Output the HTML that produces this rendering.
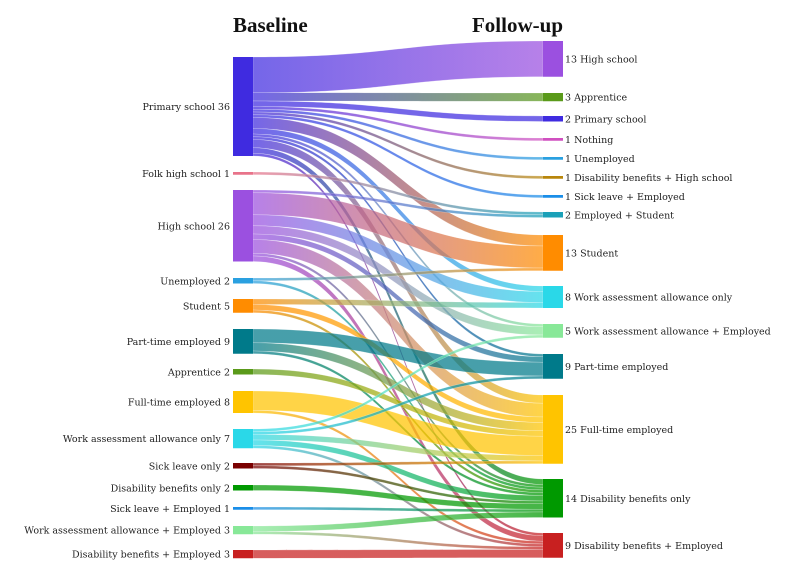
<!DOCTYPE html>
<html><head><meta charset="utf-8">
<style>
html,body{margin:0;padding:0;background:#fff;}
svg{display:block;}
text{font-family:"DejaVu Serif","Liberation Serif",serif;font-size:9.5px;fill:#222;}
.t{font-family:"Liberation Serif",serif;font-size:21px;font-weight:bold;fill:#111;}
</style></head><body>
<svg id="s" width="796" height="575" xmlns="http://www.w3.org/2000/svg">
<defs id="d"></defs>
<g id="links"></g><g id="nodes"></g>
<text class="t" x="233" y="32">Baseline</text>
<text class="t" x="563" y="32" text-anchor="end">Follow-up</text>
</svg>
<script>
var K=2.75,LX=233,RX=543,W=20;
var L=[["Primary school 36",57,36,"#3f2be0"],["Folk high school 1",172,1,"#e8738a"],["High school 26",190,26,"#9b50e0"],["Unemployed 2",278,2,"#2aa0e0"],["Student 5",299,5,"#ff8c00"],["Part-time employed 9",329,9,"#007a8a"],["Apprentice 2",369,2,"#5a9a1a"],["Full-time employed 8",391,8,"#ffc400"],["Work assessment allowance only 7",429,7,"#2ad8e8"],["Sick leave only 2",463,2,"#7a0000"],["Disability benefits only 2",485,2,"#009900"],["Sick leave + Employed 1",507,1,"#1a8ee8"],["Work assessment allowance + Employed 3",526,3,"#88e898"],["Disability benefits + Employed 3",550,3,"#c82020"]];
var R=[["13 High school",41,13,"#9b50e0"],["3 Apprentice",93,3,"#5a9a1a"],["2 Primary school",116,2,"#3f2be0"],["1 Nothing",138,1,"#d050c0"],["1 Unemployed",157,1,"#2aa0e0"],["1 Disability benefits + High school",176,1,"#b8860b"],["1 Sick leave + Employed",195,1,"#1a8ee8"],["2 Employed + Student",212,2,"#1aa0b8"],["13 Student",235,13,"#ff8c00"],["8 Work assessment allowance only",286,8,"#2ad8e8"],["5 Work assessment allowance + Employed",324,5,"#88e898"],["9 Part-time employed",354,9,"#007a8a"],["25 Full-time employed",395,25,"#ffc400"],["14 Disability benefits only",479,14,"#009900"],["9 Disability benefits + Employed",533,9,"#c82020"]];
var F=[[0,0,13],[0,1,3],[0,2,2],[0,3,1],[0,4,1],[0,5,1],[0,6,1],[0,8,4],[0,9,2],[0,10,1],[0,11,1],[0,12,3],[0,13,2],[0,14,1],
[1,7,1],
[2,7,1],[2,8,8],[2,9,4],[2,10,3],[2,11,2],[2,12,5],[2,13,1],[2,14,2],
[3,8,1],[3,13,1],
[4,9,2],[4,12,2],[4,13,1],
[5,11,5],[5,12,3],[5,13,1],
[6,12,2],
[7,12,7],[7,14,1],
[8,10,1],[8,11,1],[8,12,2],[8,13,2],[8,14,1],
[9,12,1],[9,13,1],
[10,13,2],[11,13,1],[12,13,2],[12,14,1],[13,14,3]];
var lo=L.map(function(n){return n[1];}),ro=R.map(function(n){return n[1];});
for(var i=0;i<L.length;i++){F.filter(function(f){return f[0]==i;}).sort(function(a,b){return a[1]-b[1];}).forEach(function(f){f.y0=lo[i];lo[i]+=f[2]*K;});}
for(var j=0;j<R.length;j++){F.filter(function(f){return f[1]==j;}).sort(function(a,b){return a[0]-b[0];}).forEach(function(f){f.y1=ro[j];ro[j]+=f[2]*K;});}
var ns="http://www.w3.org/2000/svg",d=document.getElementById("d"),g=document.getElementById("links"),nd=document.getElementById("nodes");
var x0=LX+W,x1=RX,xm=(x0+x1)/2;
F.forEach(function(f,k){
 var gr=document.createElementNS(ns,"linearGradient");gr.setAttribute("id","g"+k);gr.setAttribute("x1","0");gr.setAttribute("x2","1");
 gr.innerHTML='<stop offset="0" stop-color="'+L[f[0]][3]+'"/><stop offset="1" stop-color="'+R[f[1]][3]+'"/>';d.appendChild(gr);
 var h=f[2]*K,a=f.y0,b=f.y1;
 var p=document.createElementNS(ns,"path");
 p.setAttribute("d","M"+x0+","+a+"C"+xm+","+a+" "+xm+","+b+" "+x1+","+b+"L"+x1+","+(b+h)+"C"+xm+","+(b+h)+" "+xm+","+(a+h)+" "+x0+","+(a+h)+"Z");
 p.setAttribute("fill","url(#g"+k+")");p.setAttribute("fill-opacity","0.72");p.setAttribute("stroke","#fff");p.setAttribute("stroke-opacity","0.4");p.setAttribute("stroke-width","0.5");
 g.appendChild(p);
});
function node(n,x,left){
 var h=n[2]*K,r=document.createElementNS(ns,"rect");
 r.setAttribute("x",x);r.setAttribute("y",n[1]);r.setAttribute("width",W);r.setAttribute("height",h);r.setAttribute("fill",n[3]);nd.appendChild(r);
 var t=document.createElementNS(ns,"text");t.textContent=n[0];
 t.setAttribute("x",left?x-3:x+W+2);t.setAttribute("y",n[1]+h/2+3.5);if(left)t.setAttribute("text-anchor","end");nd.appendChild(t);
}
L.forEach(function(n){node(n,LX,true);});R.forEach(function(n){node(n,RX,false);});
</script>
</body></html>
